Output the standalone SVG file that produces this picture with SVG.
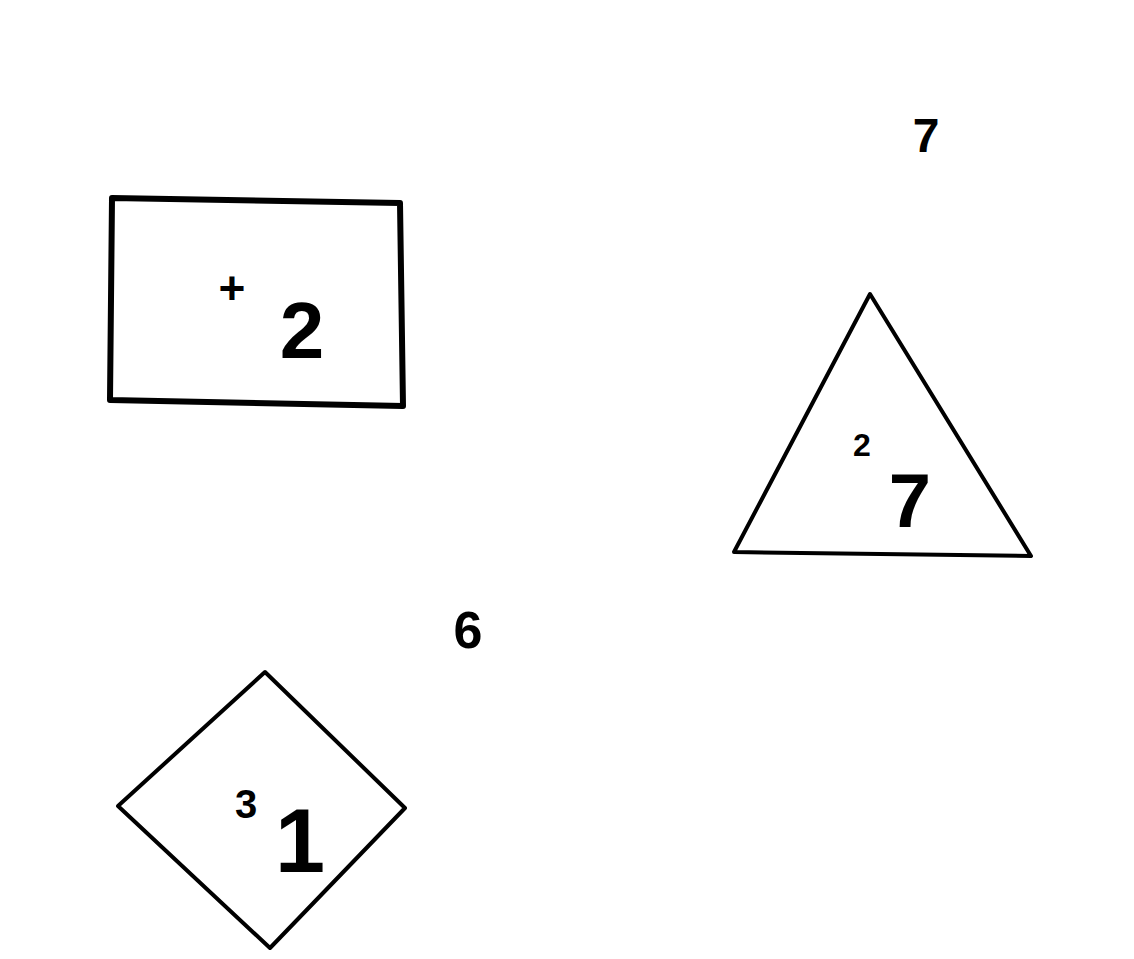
<svg xmlns="http://www.w3.org/2000/svg" width="1134" height="959" viewBox="0 0 1134 959">
<style>
.shape{fill:none;stroke:#000;stroke-linejoin:round;stroke-linecap:round}
.t{font-family:"Liberation Sans",Arial,sans-serif;font-weight:bold;fill:#000;text-anchor:middle}
</style>
<rect width="1134" height="959" fill="#fff"/>
<g id="node-rect">
<polygon class="shape" stroke-width="6" points="112,198 400,203 403,406 110,400"/>
<text class="t" x="232" y="304" font-size="46">+</text>
<text class="t" x="302" y="358" font-size="80">2</text>
</g>
<g id="node-triangle">
<polygon class="shape" stroke-width="4" points="870,294 1031,556 734,552"/>
<text class="t" x="862" y="456" font-size="32">2</text>
<text class="t" x="910" y="527" font-size="76">7</text>
</g>
<g id="node-diamond">
<polygon class="shape" stroke-width="4" points="265,672 405,808 270,948 118,806"/>
<text class="t" x="246" y="818" font-size="40">3</text>
<text class="t" x="300" y="872" font-size="90" font-weight="normal">1</text>
</g>
<g id="label-7">
<text class="t" x="926" y="152" font-size="48">7</text>
</g>
<g id="label-6">
<text class="t" x="468" y="648" font-size="52">6</text>
</g>
<g id="connectors"></g>
</svg>
